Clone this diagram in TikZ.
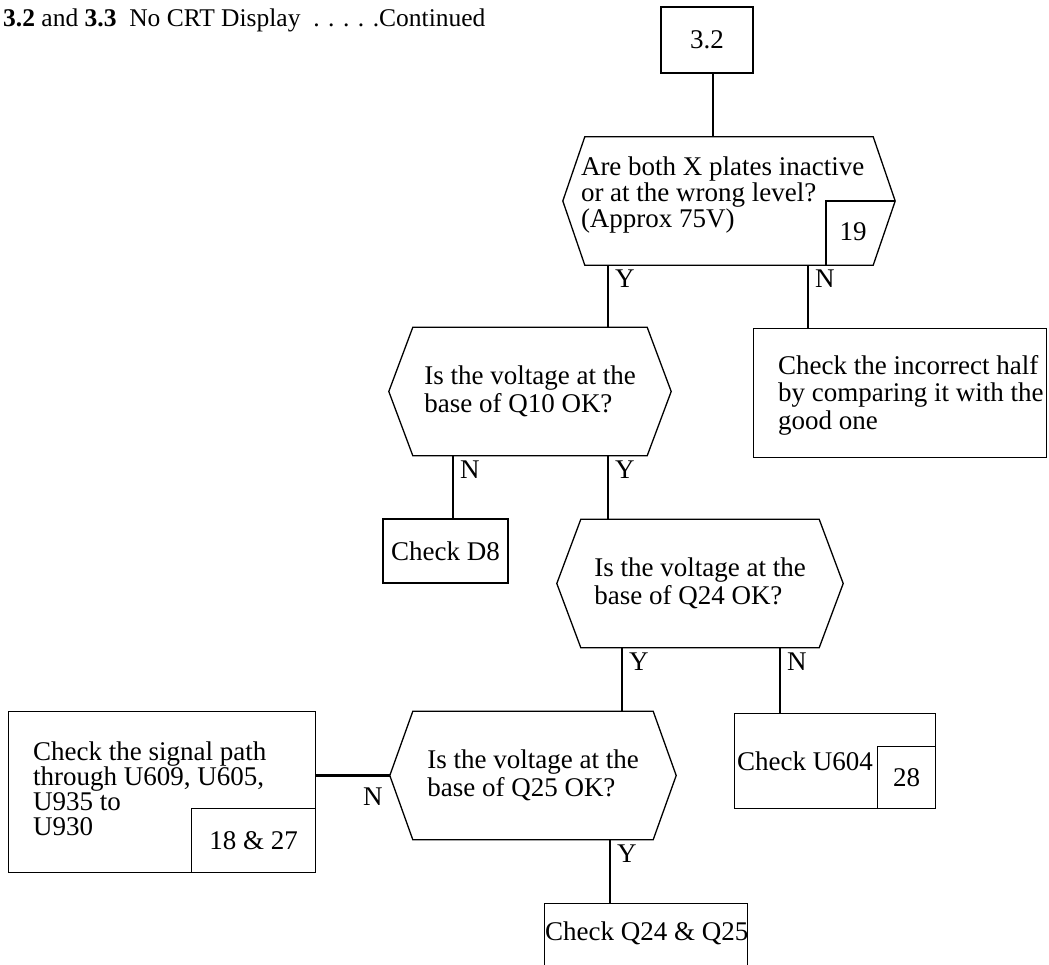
\documentclass[tikz,border=0pt]{standalone}
\usepackage{fontspec}
\setmainfont{Liberation Serif}
\usepackage{tikz}

% εξάγωνο γύρω από κόμβο (όνομα, προεξοχή)
\newcommand{\hexbox}[2]{\draw[box] (#1.north west) -- (#1.north east) -- ([xshift=#2]#1.east)
  -- (#1.south east) -- (#1.south west) -- ([xshift=-#2]#1.west) -- cycle;}

\begin{document}
\begin{tikzpicture}[x=1pt, y=-1pt,
    every node/.style={font=\fontsize{27pt}{27.5pt}\selectfont},
    box/.style={draw, line width=1.3pt},
    conn/.style={line width=2.2pt},
    hexbody/.style={minimum width=#1, minimum height=128pt, align=left, inner sep=0pt},
    lab/.style={anchor=north west, inner xsep=6pt, inner ysep=4pt}]
        \useasboundingbox (0,0) rectangle (1049,965);
        \clip (0,0) rectangle (1049,965);

        % Τίτλος
        \node[anchor=west, inner sep=0pt, font=\fontsize{25.5pt}{27pt}\selectfont] (title) at (3,20)
            {\textbf{3.2} and \textbf{3.3}\ \ No CRT Display \ . . . . .Continued};

        % Αρχή
        \node[box, minimum width=92pt, minimum height=66pt] (b32) at (707,40) {3.2};

        % Ερωτήσεις (εξάγωνα)
        \node[hexbody=288pt] (hexA) at (729,201) {};
        \hexbox{hexA}{22pt}
        \node[anchor=west, align=left, inner sep=0pt, font=\fontsize{27pt}{26pt}\selectfont] (tA)
            at ([xshift=-4pt, yshift=6pt]hexA.west) {Are both X plates inactive\\or at the wrong level?\\(Approx 75V)};
        \draw[box] ([xshift=97pt]hexA.south) |- ([xshift=22pt]hexA.east);
        \node (n19) at ([xshift=124pt, yshift=-31pt]hexA.center) {19};

        \node[hexbody=234pt] (hexB) at (530,391.5) {Is the voltage at the\\base of Q10 OK?};
        \hexbox{hexB}{24pt}

        \node[hexbody=238pt] (hexC) at (700,583.5) {Is the voltage at the\\base of Q24 OK?};
        \hexbox{hexC}{24pt}

        \node[hexbody=240pt] (hexD) at (533,775.5) {Is the voltage at the\\base of Q25 OK?};
        \hexbox{hexD}{23pt}

        % Έλεγχοι (ορθογώνια)
        \node[box, minimum width=293pt, minimum height=129pt, anchor=north west] (half) at (753,328) {};
        \node[anchor=west, align=left, inner sep=0pt] (tHalf) at ([xshift=25pt, yshift=-2pt]half.west)
            {Check the incorrect half\\by comparing it with the\\good one};

        \node[box, minimum width=125pt, minimum height=64pt] (d8) at (445.5,551) {Check D8};

        \node[box, minimum width=201pt, minimum height=95pt, anchor=north west] (u604) at (734,713) {};
        \node[anchor=west, inner sep=3pt] (tU604) at (u604.west) {Check U604};
        \node[box, anchor=south east, minimum width=58pt, minimum height=62pt] (r28) at (u604.south east) {28};

        \node[box, minimum width=307pt, minimum height=161pt, anchor=north west] (sig) at (8,711) {};
        \node[anchor=west, align=left, inner sep=0pt, font=\fontsize{27pt}{25pt}\selectfont] (tSig)
            at ([xshift=25pt, yshift=3.5pt]sig.west) {Check the signal path\\through U609, U605,\\U935 to\\U930};
        \node[box, anchor=south east, minimum width=124pt, minimum height=64pt] (r1827) at (sig.south east) {18 \& 27};

        \node[box, minimum width=203pt, minimum height=100pt, anchor=north west] (chkQ) at (544,903) {};
        \node[anchor=west, inner sep=1pt] (tQ) at ([yshift=-30pt]chkQ.north west) {Check Q24 \& Q25};

        % Συνδέσεις
        \coordinate (s32) at ([xshift=6pt]b32.south);
        \draw[conn] (s32) -- (s32 |- hexA.north);

        \coordinate (aY) at ([xshift=-121pt]hexA.south);
        \draw[conn] (aY) -- (aY |- hexB.north) node[lab, pos=0] (laY) {Y};
        \coordinate (aN) at ([xshift=79pt]hexA.south);
        \draw[conn] (aN) -- (aN |- half.north) node[lab, pos=0] (laN) {N};

        \coordinate (bN) at ([xshift=-77pt]hexB.south);
        \draw[conn] (bN) -- (bN |- d8.north) node[lab, pos=0] (lbN) {N};
        \coordinate (bY) at ([xshift=78pt]hexB.south);
        \draw[conn] (bY) -- (bY |- hexC.north) node[lab, pos=0] (lbY) {Y};

        \coordinate (cY) at ([xshift=-78pt]hexC.south);
        \draw[conn] (cY) -- (cY |- hexD.north) node[lab, pos=0] (lcY) {Y};
        \coordinate (cN) at ([xshift=80pt]hexC.south);
        \draw[conn] (cN) -- (cN |- u604.north) node[lab, pos=0] (lcN) {N};

        \coordinate (dW) at ([xshift=-23pt]hexD.west);
        \draw[conn] (dW) -- (dW -| sig.east) node[pos=0, anchor=north east, inner xsep=6pt, inner ysep=11pt] (ldN) {N};
        \coordinate (dY) at ([xshift=77pt]hexD.south);
        \draw[conn] (dY) -- (dY |- chkQ.north) node[lab, pos=0] (ldY) {Y};
\end{tikzpicture}
\end{document}
